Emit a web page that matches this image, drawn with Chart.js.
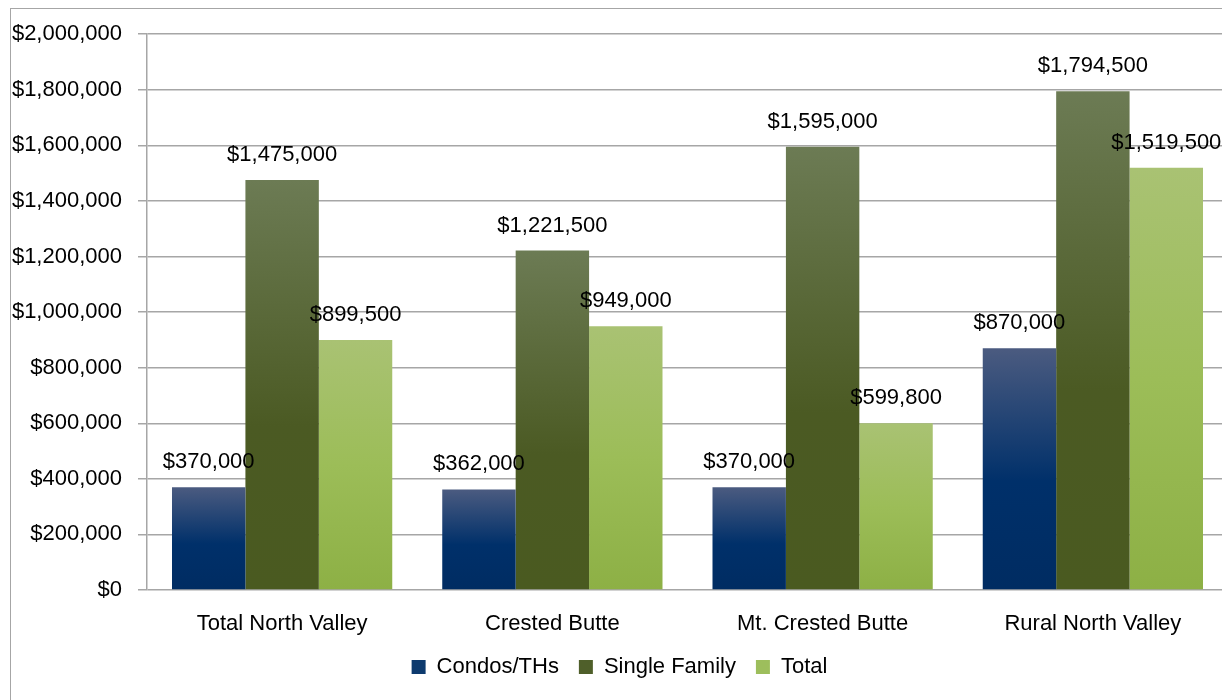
<!DOCTYPE html>
<html>
<head>
<meta charset="utf-8">
<script src="https://cdn.jsdelivr.net/npm/chart.js@4/dist/chart.umd.min.js"></script>
<style>
  html, body { margin: 0; padding: 0; background: #fff; overflow: hidden; width: 1222px; height: 700px; }
  #wrap { position: absolute; left: 10px; top: 8px; width: 1230px; height: 700px; border: 1px solid #a6a6a6; background: #fff; overflow: hidden; }
  #medianChart { display: block; margin-top: -4px; }
</style>
</head>
<body>
<div id="wrap"><canvas id="medianChart" width="1230" height="700"></canvas></div>
<script>
const categories = ['Total North Valley', 'Crested Butte', 'Mt. Crested Butte', 'Rural North Valley'];
const seriesNames = ['Condos/THs', 'Single Family', 'Total'];
const condosValues = [370000, 362000, 370000, 870000];
const singleFamilyValues = [1475000, 1221500, 1595000, 1794500];
const totalValues = [899500, 949000, 599800, 1519500];
const yTicks = [0, 200000, 400000, 600000, 800000, 1000000, 1200000, 1400000, 1600000, 1800000, 2000000];

const money = v => '$' + v.toLocaleString('en-US');
const FONT = "'Liberation Sans', Arial, sans-serif";

// top -> bottom colour stops for each series
const gradients = [
  [[0, '#4b5b80'], [0.55, '#00306a'], [1, '#002c62']],
  [[0, '#6c7b54'], [0.6, '#4b5a23'], [1, '#4a5a20']],
  [[0, '#a9c273'], [0.5, '#9cbd58'], [1, '#8db045']]
];
const legendColors = ['#0d3a6e', '#4f5f2a', '#9dbe5c'];

function barFill(seriesIdx) {
  return ctx => {
    const chart = ctx.chart;
    if (!chart.chartArea || ctx.raw === undefined) return legendColors[seriesIdx];
    const y = chart.scales.y;
    const top = y.getPixelForValue(ctx.raw);
    const bottom = y.getPixelForValue(0);
    const g = chart.ctx.createLinearGradient(0, top, 0, bottom);
    gradients[seriesIdx].forEach(s => g.addColorStop(s[0], s[1]));
    return g;
  };
}

const barLabels = {
  id: 'barLabels',
  afterDatasetsDraw(chart) {
    const c = chart.ctx;
    c.save();
    c.font = '22px ' + FONT;
    c.fillStyle = '#000';
    c.textAlign = 'center';
    c.textBaseline = 'middle';
    chart.data.datasets.forEach((ds, i) => {
      chart.getDatasetMeta(i).data.forEach((bar, j) => {
        c.fillText(money(ds.data[j]), bar.x, bar.y - 25);
      });
    });
    c.restore();
  }
};

const allValues = [condosValues, singleFamilyValues, totalValues];

new Chart(document.getElementById('medianChart').getContext('2d'), {
  type: 'bar',
  data: {
    labels: categories,
    datasets: seriesNames.map((name, i) => ({
      label: name,
      data: allValues[i],
      backgroundColor: barFill(i),
      borderWidth: 0,
      barPercentage: 1.0,
      categoryPercentage: 0.815
    }))
  },
  options: {
    responsive: false,
    animation: false,
    layout: { padding: { top: 20, right: 13, bottom: 17, left: 0 } },
    plugins: {
      tooltip: { enabled: false },
      legend: {
        position: 'bottom',
        labels: {
          font: { family: FONT, size: 22 },
          color: '#000',
          boxWidth: 14,
          boxHeight: 14,
          padding: 20,
          generateLabels: chart => chart.data.datasets.map((ds, i) => ({
            text: ds.label,
            fillStyle: legendColors[i],
            strokeStyle: legendColors[i],
            lineWidth: 0,
            datasetIndex: i
          }))
        }
      }
    },
    scales: {
      x: {
        grid: { display: false },
        border: { display: false },
        ticks: { font: { family: FONT, size: 22 }, color: '#000', padding: 13 },
        afterFit: s => { s.height = 46; }
      },
      y: {
        min: 0,
        max: 2000000,
        afterBuildTicks: s => { s.ticks = yTicks.map(v => ({ value: v })); },
        afterFit: s => { s.width = 136; },
        grid: { color: '#a6a6a6', lineWidth: 1.5, tickLength: 9 },
        border: { color: '#a6a6a6', width: 1.5 },
        ticks: {
          font: { family: FONT, size: 22 },
          color: '#000',
          padding: 16,
          callback: v => money(v)
        }
      }
    }
  },
  plugins: [barLabels]
});
</script>
</body>
</html>
